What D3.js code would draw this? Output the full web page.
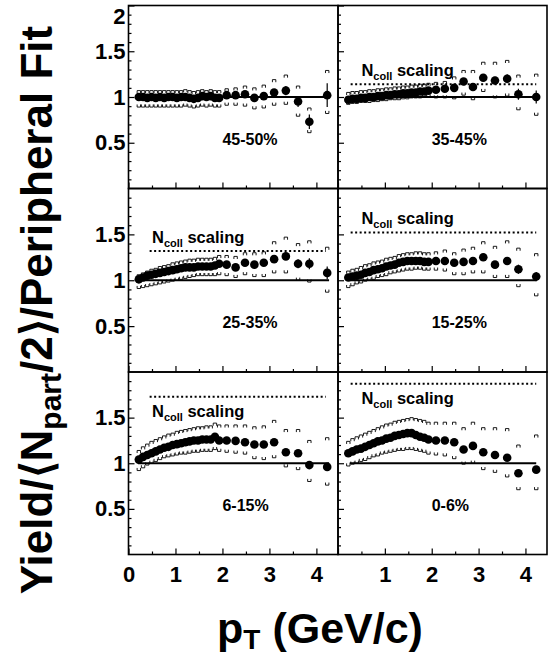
<!DOCTYPE html>
<html>
<head>
<meta charset="utf-8">
<script src="https://cdn.jsdelivr.net/npm/d3@7"></script>
<style>
  body { margin: 0; background: #fff; }
  svg { display: block; }
  text { font-family: "Liberation Sans", Arial, Helvetica, sans-serif; font-weight: bold; fill: #000; }
</style>
</head>
<body>
<div id="chart"></div>
<script>
// pT bin centres (GeV/c), shared by all centrality classes
const pt = [0.22, 0.31, 0.40, 0.49, 0.58, 0.67, 0.76, 0.85, 0.94, 1.03,
            1.12, 1.21, 1.30, 1.39, 1.48, 1.57, 1.66, 1.75, 1.84, 1.93,
            2.09, 2.28, 2.48, 2.68, 2.88, 3.10, 3.35, 3.61, 3.85, 4.23]

// 45-50%
const y4550  = [1.00,1.00,0.99,1.00,0.99,1.00,0.99,1.00,1.00,0.99,1.00,1.00,0.99,0.98,0.99,1.01,1.00,1.01,0.99,0.99,1.02,1.02,1.03,0.99,1.01,1.05,1.07,0.95,0.73,1.02]
const hi4550 = [1.07,1.07,1.07,1.07,1.07,1.07,1.07,1.07,1.07,1.07,1.07,1.08,1.07,1.06,1.07,1.08,1.07,1.08,1.07,1.07,1.09,1.10,1.12,1.10,1.13,1.19,1.24,1.12,0.88,1.29]
const lo4550 = [0.89,0.89,0.89,0.89,0.89,0.89,0.89,0.89,0.89,0.89,0.89,0.90,0.89,0.88,0.89,0.90,0.89,0.90,0.89,0.89,0.91,0.91,0.90,0.87,0.88,0.91,0.92,0.79,0.61,0.82]
const st4550 = [0,0,0,0,0,0,0,0,0,0,0,0,0,0,0,0,0,0,0,0,0.01,0.01,0.02,0.02,0.02,0.03,0.05,0.06,0.08,0.13]

// 35-45%
const y3545  = [0.97,0.98,0.98,0.99,0.99,1.00,1.00,1.01,1.01,1.02,1.02,1.03,1.03,1.04,1.04,1.05,1.05,1.06,1.06,1.07,1.08,1.09,1.10,1.17,1.11,1.21,1.18,1.20,1.03,1.00]
const hi3545 = [1.05,1.06,1.06,1.07,1.07,1.08,1.08,1.09,1.09,1.10,1.10,1.11,1.11,1.12,1.12,1.13,1.13,1.14,1.14,1.15,1.16,1.17,1.22,1.29,1.29,1.38,1.38,1.40,1.24,1.25]
const lo3545 = [0.92,0.93,0.93,0.94,0.94,0.94,0.95,0.95,0.96,0.96,0.97,0.97,0.97,0.98,0.98,0.99,0.99,0.99,1.00,1.00,0.99,0.99,0.98,1.02,0.97,1.06,0.99,1.01,0.86,0.80]
const st3545 = [0,0,0,0,0,0,0,0,0,0,0,0,0,0,0,0,0,0,0,0,0.01,0.01,0.02,0.02,0.02,0.03,0.04,0.05,0.06,0.07]

// 25-35%
const y2535  = [1.01,1.03,1.05,1.06,1.07,1.08,1.09,1.10,1.11,1.12,1.13,1.14,1.14,1.14,1.15,1.15,1.15,1.15,1.16,1.18,1.17,1.14,1.19,1.17,1.19,1.23,1.26,1.18,1.18,1.08]
const hi2535 = [1.06,1.08,1.10,1.12,1.13,1.15,1.16,1.17,1.19,1.20,1.21,1.22,1.23,1.23,1.24,1.24,1.24,1.24,1.25,1.27,1.27,1.26,1.30,1.30,1.31,1.42,1.47,1.40,1.43,1.36]
const lo2535 = [0.91,0.92,0.93,0.94,0.95,0.96,0.97,0.98,0.99,1.00,1.01,1.02,1.03,1.04,1.05,1.05,1.05,1.05,1.05,1.06,1.05,1.03,1.06,1.04,1.04,1.08,1.08,1.00,0.98,0.87]
const st2535 = [0,0,0,0,0,0,0,0,0,0,0,0,0,0,0,0,0,0,0,0,0.01,0.01,0.02,0.02,0.02,0.03,0.04,0.05,0.06,0.07]

// 15-25%
const y1525  = [1.03,1.04,1.05,1.06,1.08,1.09,1.11,1.12,1.13,1.15,1.16,1.17,1.19,1.20,1.21,1.21,1.21,1.21,1.20,1.20,1.21,1.21,1.19,1.20,1.21,1.25,1.17,1.21,1.12,1.04]
const hi1525 = [1.10,1.12,1.13,1.15,1.17,1.18,1.20,1.21,1.22,1.24,1.25,1.26,1.28,1.29,1.30,1.30,1.31,1.31,1.30,1.30,1.31,1.33,1.30,1.34,1.36,1.42,1.37,1.43,1.35,1.29]
const lo1525 = [0.92,0.94,0.96,0.97,0.99,1.00,1.01,1.03,1.04,1.05,1.07,1.08,1.09,1.10,1.11,1.11,1.12,1.12,1.11,1.11,1.11,1.10,1.06,1.06,1.08,1.08,1.03,1.03,0.93,0.83]
const st1525 = [0,0,0,0,0,0,0,0,0,0,0,0,0,0,0,0,0,0,0,0,0.01,0.01,0.01,0.02,0.02,0.02,0.03,0.03,0.05,0.05]

// 6-15%
const y0615  = [1.04,1.07,1.09,1.11,1.13,1.15,1.17,1.18,1.20,1.21,1.22,1.23,1.24,1.25,1.25,1.26,1.26,1.26,1.29,1.25,1.25,1.245,1.23,1.205,1.205,1.23,1.12,1.11,0.98,0.96]
const hi0615 = [1.14,1.18,1.21,1.24,1.26,1.28,1.30,1.32,1.33,1.35,1.36,1.37,1.38,1.39,1.40,1.40,1.41,1.41,1.44,1.42,1.42,1.42,1.42,1.40,1.41,1.47,1.37,1.37,1.25,1.28]
const lo0615 = [0.92,0.95,0.98,1.00,1.02,1.04,1.06,1.07,1.08,1.09,1.10,1.10,1.11,1.12,1.12,1.13,1.13,1.13,1.15,1.13,1.12,1.11,1.10,1.05,1.04,1.06,0.96,0.93,0.80,0.76]
const st0615 = [0,0,0,0,0,0,0,0,0,0,0,0,0,0,0,0,0,0,0,0,0.01,0.01,0.01,0.01,0.01,0.02,0.02,0.02,0.03,0.03]

// 0-6%
const y0006  = [1.11,1.13,1.15,1.16,1.18,1.20,1.22,1.24,1.25,1.27,1.28,1.30,1.31,1.32,1.33,1.33,1.31,1.29,1.28,1.26,1.25,1.25,1.23,1.15,1.19,1.12,1.09,1.06,0.89,0.93]
const hi0006 = [1.24,1.27,1.29,1.31,1.33,1.35,1.37,1.39,1.41,1.43,1.44,1.46,1.47,1.48,1.49,1.50,1.49,1.48,1.47,1.45,1.45,1.45,1.45,1.39,1.45,1.39,1.39,1.38,1.20,1.31]
const lo0006 = [0.97,0.99,1.00,1.02,1.03,1.05,1.07,1.08,1.10,1.11,1.12,1.13,1.14,1.14,1.15,1.15,1.14,1.13,1.12,1.10,1.09,1.08,1.05,0.99,1.00,0.93,0.90,0.85,0.71,0.71]
const st0006 = [0,0,0,0,0,0,0,0,0,0,0,0,0,0,0,0,0,0,0,0,0.01,0.01,0.01,0.01,0.01,0.02,0.02,0.02,0.03,0.03]

const centLabels = ['45-50%', '35-45%', '25-35%', '15-25%', '6-15%', '0-6%']
const ncollLevels = [null, 1.14, 1.32, 1.52, 1.73, 1.87]

const xMajor = [0, 1, 2, 3, 4]
const xMinor = [0.5, 1.5, 2.5, 3.5]
const yMajor = [0.5, 1, 1.5]
const yMinor = [0.1,0.2,0.3,0.4,0.6,0.7,0.8,0.9,1.1,1.2,1.3,1.4,1.6,1.7,1.8,1.9]

const panels = [
    { label: centLabels[0], y: y4550, hi: hi4550, lo: lo4550, st: st4550, ncoll: ncollLevels[0] },
    { label: centLabels[1], y: y3545, hi: hi3545, lo: lo3545, st: st3545, ncoll: ncollLevels[1] },
    { label: centLabels[2], y: y2535, hi: hi2535, lo: lo2535, st: st2535, ncoll: ncollLevels[2] },
    { label: centLabels[3], y: y1525, hi: hi1525, lo: lo1525, st: st1525, ncoll: ncollLevels[3] },
    { label: centLabels[4], y: y0615, hi: hi0615, lo: lo0615, st: st0615, ncoll: ncollLevels[4] },
    { label: centLabels[5], y: y0006, hi: hi0006, lo: lo0006, st: st0006, ncoll: ncollLevels[5] }
]

const width = 559
const height = 659
const colX = [128.5, 338, 547]
const rowY = [5.5, 188.5, 372, 554.5]

const svg = d3.select('#chart').append('svg')
    .attr('width', width)
    .attr('height', height)

svg.append('rect').attr('width', width).attr('height', height).attr('fill', '#fff')

panels.forEach((p, i) => {
    const row = Math.floor(i / 2)
    const col = i % 2

    const x = d3.scaleLinear().domain([0, 4.46]).range([colX[col], colX[col + 1]])
    const y = d3.scaleLinear().domain([0, 2]).range([rowY[row + 1], rowY[row]])

    const g = svg.append('g')

    // ticks, pointing into the frame
    const bottomRow = row === 2
    g.append('g')
        .attr('transform', `translate(0, ${ rowY[row + 1] })`)
        .call(d3.axisBottom(x).tickValues(xMajor).tickSize(-6).tickPadding(12)
            .tickFormat(d => (bottomRow && !(col === 1 && d === 0)) ? d : ''))
    g.append('g')
        .attr('transform', `translate(0, ${ rowY[row + 1] })`)
        .call(d3.axisBottom(x).tickValues(xMinor).tickSize(-3).tickFormat(''))

    const yVals = row === 0 ? yMajor.concat([2]) : yMajor
    const yAx = g.append('g')
        .attr('transform', `translate(${ colX[col] }, 0)`)
        .call(d3.axisLeft(y).tickValues(yVals).tickSize(-6).tickPadding(3)
            .tickFormat(d => col === 0 ? d : ''))
    g.append('g')
        .attr('transform', `translate(${ colX[col] }, 0)`)
        .call(d3.axisLeft(y).tickValues(yMinor).tickSize(-3).tickFormat(''))

    g.selectAll('.domain').remove()
    g.selectAll('.tick line').attr('stroke', '#000').attr('stroke-width', 1.2)
    g.selectAll('.tick text').attr('font-size', 22).attr('font-family', null)
    // top label "2" pushed down so it stays inside the page
    yAx.selectAll('.tick').filter(d => d === 2).select('text').attr('y', 11).attr('dy', '0.32em')

    // reference lines
    const line = d3.line().x(d => x(d[0])).y(d => y(d[1]))
    g.append('path')
        .attr('d', line([[col === 0 ? 0.2 : 0.25, 1], [col === 0 ? 4.27 : 4.23, 1]]))
        .attr('stroke', '#000').attr('stroke-width', 2).attr('fill', 'none')

    if (p.ncoll !== null) {
        g.append('path')
            .attr('d', line([[col === 0 ? 0.45 : 0.27, p.ncoll], [col === 0 ? 4.2 : 4.23, p.ncoll]]))
            .attr('stroke', '#000').attr('stroke-width', 2).attr('stroke-dasharray', '2,2.5').attr('fill', 'none')

        const ty = p.ncoll > 1.6 ? p.ncoll - 0.22 : p.ncoll + 0.09
        const t = g.append('text')
            .attr('x', x(0.5))
            .attr('y', y(ty))
            .attr('font-size', 16.5)
        t.append('tspan').text('N')
        t.append('tspan').text('coll').attr('font-size', 11).attr('dy', 4)
        t.append('tspan').text(' scaling').attr('dy', -4)
    }

    const pts = pt.map((v, k) => ({ x: v, y: p.y[k], hi: p.hi[k], lo: p.lo[k], st: p.st[k] }))

    // systematic brackets
    const bw = 1.7, bh = 2.6
    g.append('g').selectAll('path.up')
        .data(pts)
        .enter()
        .append('path')
        .attr('d', d => `M${ x(d.x) - bw },${ y(d.hi) + bh }V${ y(d.hi) }H${ x(d.x) + bw }V${ y(d.hi) + bh }`)
        .attr('stroke', '#000').attr('stroke-width', 0.9).attr('fill', 'none')
    g.append('g').selectAll('path.dn')
        .data(pts)
        .enter()
        .append('path')
        .attr('d', d => `M${ x(d.x) - bw },${ y(d.lo) - bh }V${ y(d.lo) }H${ x(d.x) + bw }V${ y(d.lo) - bh }`)
        .attr('stroke', '#000').attr('stroke-width', 0.9).attr('fill', 'none')

    // statistical errors
    g.append('g').selectAll('line')
        .data(pts)
        .enter()
        .append('line')
        .attr('x1', d => x(d.x)).attr('x2', d => x(d.x))
        .attr('y1', d => y(d.y - d.st)).attr('y2', d => y(d.y + d.st))
        .attr('stroke', '#000').attr('stroke-width', 1.2)

    g.append('g').selectAll('circle')
        .data(pts)
        .enter()
        .append('circle')
        .attr('cx', d => x(d.x))
        .attr('cy', d => y(d.y))
        .attr('r', 4.3)
        .attr('fill', '#000')

    g.append('text')
        .attr('x', x(2.0))
        .attr('y', y(0.48))
        .attr('font-size', 16)
        .text(p.label)

    // frame
    g.append('rect')
        .attr('x', colX[col]).attr('y', rowY[row])
        .attr('width', colX[col + 1] - colX[col])
        .attr('height', rowY[row + 1] - rowY[row])
        .attr('fill', 'none').attr('stroke', '#000').attr('stroke-width', 1.6)
})

// axis titles
const xt = svg.append('text')
    .attr('x', 320)
    .attr('y', 643)
    .attr('text-anchor', 'middle')
    .attr('font-size', 43)
xt.append('tspan').text('p')
xt.append('tspan').text('T').attr('font-size', 28).attr('dy', 6)
xt.append('tspan').text(' (GeV/c)').attr('dy', -6)

const yt = svg.append('text')
    .attr('transform', 'translate(52, 310) rotate(-90)')
    .attr('text-anchor', 'middle')
    .attr('font-size', 44)
yt.append('tspan').text('Yield/\u27E8N')
yt.append('tspan').text('part').attr('font-size', 30).attr('dy', 9)
yt.append('tspan').text('/2\u27E9/Peripheral Fit').attr('dy', -9)
</script>
</body>
</html>
